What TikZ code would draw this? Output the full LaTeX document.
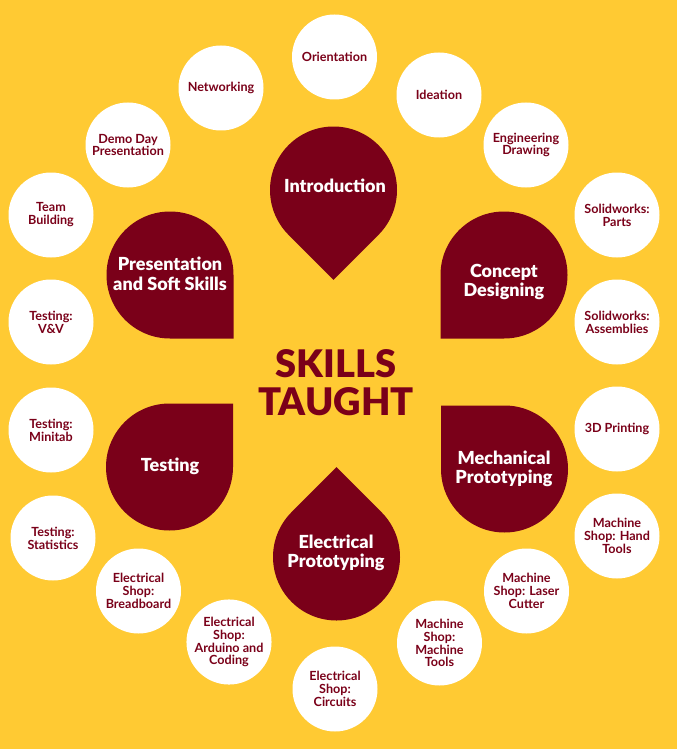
\documentclass[tikz,border=0pt]{standalone}
\usepackage{fontspec}
\setmainfont{Lato}
\newfontfamily\heavyfont{Lato Black}
\usetikzlibrary{calc}
\definecolor{umgold}{HTML}{FFCA33}
\definecolor{umaroon}{HTML}{7A0019}
\newcommand{\skilldrop}[3]{%
  \fill[umaroon] (#1,#2) ++(#3:89.8) -- ($(#1,#2)+({#3+45}:63.5)$) arc[start angle={#3+45}, delta angle=270, radius=63.5] -- cycle;}
\begin{document}
\begin{tikzpicture}[x=1pt,y=-1pt,
  skill/.style={circle, fill=white, minimum size=85pt, inner sep=0pt, text=umaroon,
    font=\bfseries\fontsize{12.6}{12.9}\selectfont, align=center},
  droplabel/.style={text=white, font=\heavyfont\fontsize{18}{19.5}\selectfont, align=center, inner sep=0pt},
  titletext/.style={text=umaroon, font=\heavyfont\fontsize{38}{38}\selectfont, inner sep=0pt}]
\fill[umgold] (0,0) rectangle (677,749);
\useasboundingbox (0,0) rectangle (677,749);

% drops
\skilldrop{333.5}{190}{90}
\skilldrop{504}{275}{135}
\skilldrop{504.5}{469}{225}
\skilldrop{336.5}{557}{270}
\skilldrop{169.5}{467}{315}
\skilldrop{170}{275}{45}

\node[droplabel] (intro) at (335,186) {Introduction};
\node[droplabel] (concept) at (504,282) {Concept\\Designing};
\node[droplabel] (mech) at (504,469) {Mechanical\\Prototyping};
\node[droplabel] (elec) at (336,553) {Electrical\\Prototyping};
\node[droplabel] (testing) at (170,466) {Testing};
\node[droplabel] (present) at (170,274) {Presentation\\and Soft Skills};

% title
\node[titletext, anchor=base] (skills) at (336,377) {SKILLS};
\node[titletext, anchor=base] (taught) at (336,415) {TAUGHT};

% circles
\node[skill] (orient) at (334.5,57) {Orientation};
\node[skill] (ideation) at (439,95) {Ideation};
\node[skill] (engdraw) at (526,145) {Engineering\\Drawing};
\node[skill] (swparts) at (617,215) {Solidworks:\\Parts};
\node[skill] (swasm) at (617,322) {Solidworks:\\Assemblies};
\node[skill] (printing) at (617,429) {3D Printing};
\node[skill] (handtools) at (617,536) {Machine\\Shop: Hand\\Tools};
\node[skill] (laser) at (526.5,591) {Machine\\Shop: Laser\\Cutter};
\node[skill] (machtools) at (439.5,643) {Machine\\Shop:\\Machine\\Tools};
\node[skill] (circuits) at (335,689) {Electrical\\Shop:\\Circuits};
\node[skill] (arduino) at (229,642) {Electrical\\Shop:\\Arduino and\\Coding};
\node[skill] (breadboard) at (138.5,591) {Electrical\\Shop:\\Breadboard};
\node[skill] (statistics) at (53,538) {Testing:\\Statistics};
\node[skill] (minitab) at (51,430) {Testing:\\Minitab};
\node[skill] (vv) at (51,322) {Testing:\\V\&V};
\node[skill] (team) at (51,215) {Team\\Building};
\node[skill] (demoday) at (128,145) {Demo Day\\Presentation};
\node[skill] (networking) at (221,88) {Networking};
\end{tikzpicture}
\end{document}
